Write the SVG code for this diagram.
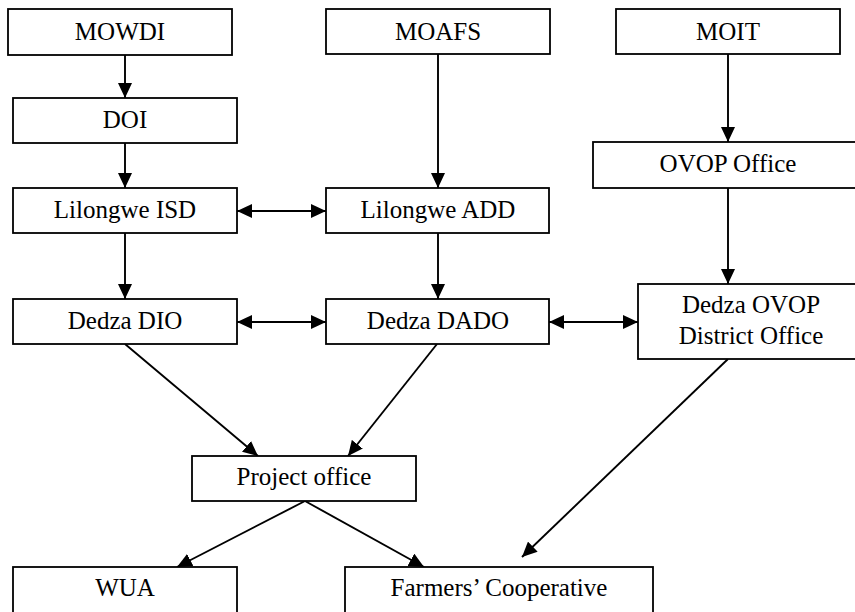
<svg xmlns="http://www.w3.org/2000/svg" width="855" height="612" viewBox="0 0 855 612">
<style>
.box{fill:#fff;stroke:#000;stroke-width:1.8}
.lbl{font-family:"Liberation Serif","Times New Roman",serif;font-size:25px;fill:#000;text-anchor:middle}
.c{stroke:#000;stroke-width:1.9;fill:none;marker-end:url(#ah)}
.d{marker-start:url(#ah)}
</style>
<defs>
<marker id="ah" markerUnits="userSpaceOnUse" markerWidth="16" markerHeight="14" refX="15" refY="7" orient="auto-start-reverse" viewBox="0 0 16 14">
<path d="M0,0 L15,7 L0,14 z" fill="#000"/>
</marker>
</defs>
<rect width="855" height="612" fill="#fff"/>
<g id="connectors">
<line class="c" x1="125" y1="55" x2="125" y2="98"/>
<line class="c" x1="125" y1="143" x2="125" y2="188"/>
<line class="c" x1="438" y1="54" x2="438" y2="188"/>
<line class="c" x1="728" y1="54" x2="728" y2="142"/>
<line class="c" x1="728" y1="188" x2="728" y2="284"/>
<line class="c d" x1="237" y1="211" x2="326" y2="211"/>
<line class="c" x1="125" y1="233" x2="125" y2="299"/>
<line class="c" x1="438" y1="233" x2="438" y2="299"/>
<line class="c d" x1="237" y1="322" x2="326" y2="322"/>
<line class="c d" x1="549" y1="322" x2="638" y2="322"/>
<line class="c" x1="125" y1="344" x2="258" y2="456"/>
<line class="c" x1="437" y1="344" x2="348" y2="456"/>
<line class="c" x1="305" y1="501" x2="177" y2="567"/>
<line class="c" x1="305" y1="501" x2="424" y2="567"/>
<line class="c" x1="728" y1="359" x2="522" y2="557"/>
</g>
<g id="mowdi"><rect class="box" x="8" y="9" width="224" height="46"/><text class="lbl" x="120" y="40">MOWDI</text></g>
<g id="moafs"><rect class="box" x="326" y="9" width="224" height="45"/><text class="lbl" x="438" y="40">MOAFS</text></g>
<g id="moit"><rect class="box" x="616" y="9" width="224" height="45"/><text class="lbl" x="728" y="40">MOIT</text></g>
<g id="doi"><rect class="box" x="13" y="98" width="224" height="45"/><text class="lbl" x="125" y="128">DOI</text></g>
<g id="ovop-office"><rect class="box" x="593" y="142" width="270" height="46"/><text class="lbl" x="728" y="172">OVOP Office</text></g>
<g id="lilongwe-isd"><rect class="box" x="13" y="188" width="224" height="45"/><text class="lbl" x="125" y="218">Lilongwe ISD</text></g>
<g id="lilongwe-add"><rect class="box" x="326" y="188" width="223" height="45"/><text class="lbl" x="438" y="218">Lilongwe ADD</text></g>
<g id="dedza-dio"><rect class="box" x="13" y="299" width="224" height="45"/><text class="lbl" x="125" y="329">Dedza DIO</text></g>
<g id="dedza-dado"><rect class="box" x="326" y="299" width="223" height="45"/><text class="lbl" x="438" y="329">Dedza DADO</text></g>
<g id="dedza-ovop"><rect class="box" x="638" y="284" width="225" height="75"/><text class="lbl" x="751" y="313">Dedza OVOP</text><text class="lbl" x="751" y="344">District Office</text></g>
<g id="project-office"><rect class="box" x="192" y="456" width="224" height="45"/><text class="lbl" x="304" y="485">Project office</text></g>
<g id="wua"><rect class="box" x="13" y="567" width="224" height="50"/><text class="lbl" x="125" y="596">WUA</text></g>
<g id="farmers"><rect class="box" x="345" y="567" width="308" height="50"/><text class="lbl" x="499" y="596">Farmers’ Cooperative</text></g>
</svg>
